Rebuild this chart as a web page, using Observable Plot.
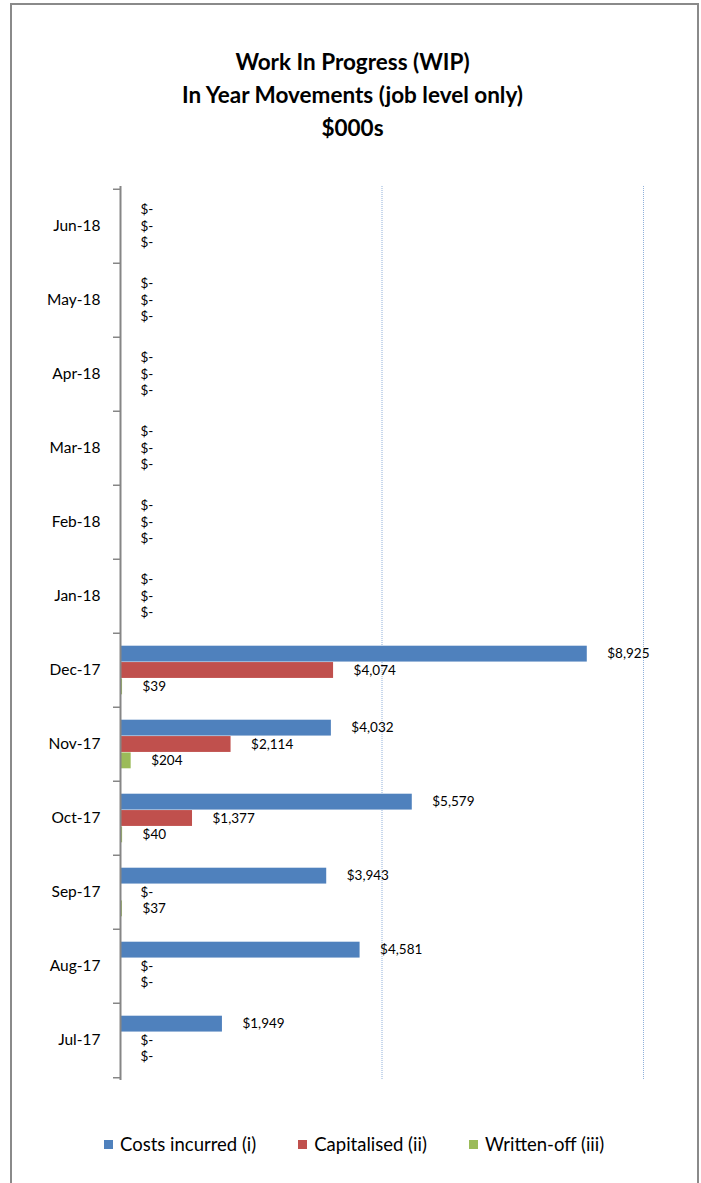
<!DOCTYPE html>
<html>
<head>
<meta charset="utf-8">
<script src="https://cdn.jsdelivr.net/npm/d3@7"></script>
<script src="https://cdn.jsdelivr.net/npm/@observablehq/plot@0.6"></script>
<style>
  body { margin: 0; background: #fff; font-family: Lato, "Open Sans", sans-serif; }
  #wrap { position: relative; width: 701px; height: 1183px; overflow: hidden; background: #fff; }
  #frame { position: absolute; left: 10px; top: 3px; width: 689px; height: 1220px; border: 2px solid #8a8a8a; box-sizing: border-box; }
  #title { position: absolute; top: 45px; left: 10px; width: 685px; text-align: center; font-weight: bold; font-size: 22.5px; line-height: 33px; color: #000; }
  #chart { position: absolute; left: 0; top: 170px; }
  #legend { position: absolute; top: 1133px; left: 104px; display: flex; align-items: center; font-size: 18.5px; color: #000; white-space: nowrap; }
  #legend .item { display: flex; align-items: center; margin-right: 42px; }
  #legend .sw { width: 9px; height: 9px; margin-right: 7px; }
</style>
</head>
<body>
<div id="wrap">
  <div id="frame"></div>
  <div id="title">Work In Progress (WIP)<br>In Year Movements (job level only)<br>$000s</div>
  <div id="chart"></div>
  <div id="legend"></div>
</div>
<script>
const months = ["Jul-17","Aug-17","Sep-17","Oct-17","Nov-17","Dec-17","Jan-18","Feb-18","Mar-18","Apr-18","May-18","Jun-18"];
const costsIncurred = [1949, 4581, 3943, 5579, 4032, 8925, 0, 0, 0, 0, 0, 0];
const capitalised   = [0, 0, 0, 1377, 2114, 4074, 0, 0, 0, 0, 0, 0];
const writtenOff    = [0, 0, 37, 40, 204, 39, 0, 0, 0, 0, 0, 0];
const seriesNames = ["Costs incurred (i)", "Capitalised (ii)", "Written-off (iii)"];
const seriesColors = ["#4F81BD", "#C0504D", "#9BBB59"];
const gridValues = [5000, 10000];

const seriesValues = [costsIncurred, capitalised, writtenOff];
const data = [];
months.forEach((m, mi) => seriesValues.forEach((vals, si) => data.push({month: m, series: seriesNames[si], si, value: vals[mi]})));

const width = 701, height = 930, marginTop = 16, marginBottom = 20, marginLeft = 120, marginRight = 58;
const step = (height - marginTop - marginBottom) / months.length;
const pad = 12.7;
const h = (step - 2 * pad) / 3;
const plotW = width - marginLeft - marginRight;
const fmt = v => v === 0 ? "$-" : "$" + d3.format(",")(v);

const marks = [];
marks.push(Plot.ruleX(gridValues, {stroke: "#8FB0DA", strokeWidth: 1, strokeDasharray: "1,1"}));
seriesNames.forEach((name, i) => {
  marks.push(Plot.barX(data.filter(d => d.si === i), {
    x: "value", y: "month", fill: seriesColors[i],
    insetTop: pad + i * h, insetBottom: pad + (2 - i) * h
  }));
  marks.push(Plot.text(data.filter(d => d.si === i), {
    x: "value", y: "month", text: d => fmt(d.value),
    dx: 20, dy: (i - 1) * h, textAnchor: "start", fill: "#000", fontSize: 13.5
  }));
});
marks.push(Plot.ruleX([0], {stroke: "#868686", strokeWidth: 2}));
marks.push(Plot.ruleY(months, {y: d => d, dy: -step / 2, insetLeft: -7, insetRight: plotW, stroke: "#868686", strokeWidth: 1.5}));
marks.push(Plot.ruleY([months[0]], {y: d => d, dy: step / 2, insetLeft: -7, insetRight: plotW, stroke: "#868686", strokeWidth: 1.5}));
marks.push(Plot.axisY({tickSize: 0, tickPadding: 20, fontSize: 15.5, fill: "#000"}));

const chart = Plot.plot({
  width, height, marginTop, marginBottom, marginLeft, marginRight,
  style: {fontFamily: "Lato, 'Open Sans', sans-serif", fontSize: "12px", background: "transparent"},
  x: {domain: [0, 10000], axis: null},
  y: {domain: months.slice().reverse(), padding: 0, label: null},
  marks
});
document.getElementById("chart").appendChild(chart);

const legend = document.getElementById("legend");
seriesNames.forEach((name, i) => {
  const item = document.createElement("div");
  item.className = "item";
  const sw = document.createElement("div");
  sw.className = "sw";
  sw.style.background = seriesColors[i];
  const t = document.createElement("span");
  t.textContent = name;
  item.appendChild(sw); item.appendChild(t);
  legend.appendChild(item);
});
</script>
</body>
</html>
